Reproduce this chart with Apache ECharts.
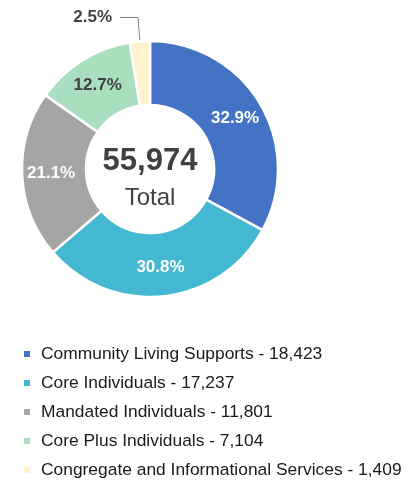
<!DOCTYPE html>
<html><head><meta charset="utf-8">
<script src="https://cdn.jsdelivr.net/npm/echarts@6/dist/echarts.min.js"></script>
<style>html,body{margin:0;padding:0;background:#fff}#c{width:419px;height:485px}</style>
</head><body><div id="c"></div>
<script>
const categories = ["Community Living Supports","Core Individuals","Mandated Individuals","Core Plus Individuals","Congregate and Informational Services"];
const values = [18423,17237,11801,7104,1409];
const colors = ["#4472C4","#43B8D0","#A5A5A5","#A9DFBF","#FFF2CC"];
const totalLabel = "Total";
const total = values.reduce((a,b)=>a+b,0);
const F = '"Liberation Sans Narrow","Arial Narrow","Liberation Sans",Arial,sans-serif';
const chart = echarts.init(document.getElementById('c'));
const data = categories.map((n,i)=>{
  const d = {name:n, value:values[i], itemStyle:{color:colors[i]}};
  if(i===3) d.label = {color:'#404040'};
  if(i===4) {
    d.label = {position:'outside', color:'#404040', align:'right', padding:[7,0,0,0], distanceToLabelLine:8};
    d.labelLine = {show:true, length:24, length2:18, lineStyle:{color:'#808080',width:1}};
  }
  return d;
});
chart.setOption({
  animation:false,
  color:colors,
  series:[{
    type:'pie', center:[150,169], radius:[64,128], startAngle:90, clockwise:true,
    avoidLabelOverlap:false,
    itemStyle:{borderColor:'#fff',borderWidth:2.5},
    label:{show:true, position:'inside', fontFamily:F, fontSize:17, fontWeight:'bold', color:'#fff',
      formatter:(p)=>(p.value/total*100).toFixed(1)+'%'},
    labelLine:{show:false},
    emphasis:{disabled:true},
    data:data
  },{
    type:'pie', center:[150,169], radius:[0,1], silent:true, tooltip:{show:false},
    label:{show:true, position:'center', fontFamily:F, color:'#404040', padding:[20,0,0,0],
      formatter:()=>'{a|'+total.toLocaleString('en-US')+'}\n{b|'+totalLabel+'}',
      rich:{a:{fontFamily:F,fontSize:31,fontWeight:'bold',color:'#404040',lineHeight:38},
            b:{fontFamily:F,fontSize:24,color:'#404040',lineHeight:36}}},
    itemStyle:{color:'rgba(0,0,0,0)'},
    emphasis:{disabled:true},
    data:[{name:'total',value:1}]
  }],
  legend:{
    orient:'vertical', left:22, top:344, padding:0, itemWidth:8, itemHeight:8, itemGap:9,
    icon:'rect', data:categories,
    textStyle:{fontFamily:F,fontSize:17.4,color:'#1a1a1a',padding:[0,0,0,5],lineHeight:20},
    formatter:(n)=>n+' - '+values[categories.indexOf(n)].toLocaleString('en-US'),
    selectedMode:false
  }
});
</script></body></html>
